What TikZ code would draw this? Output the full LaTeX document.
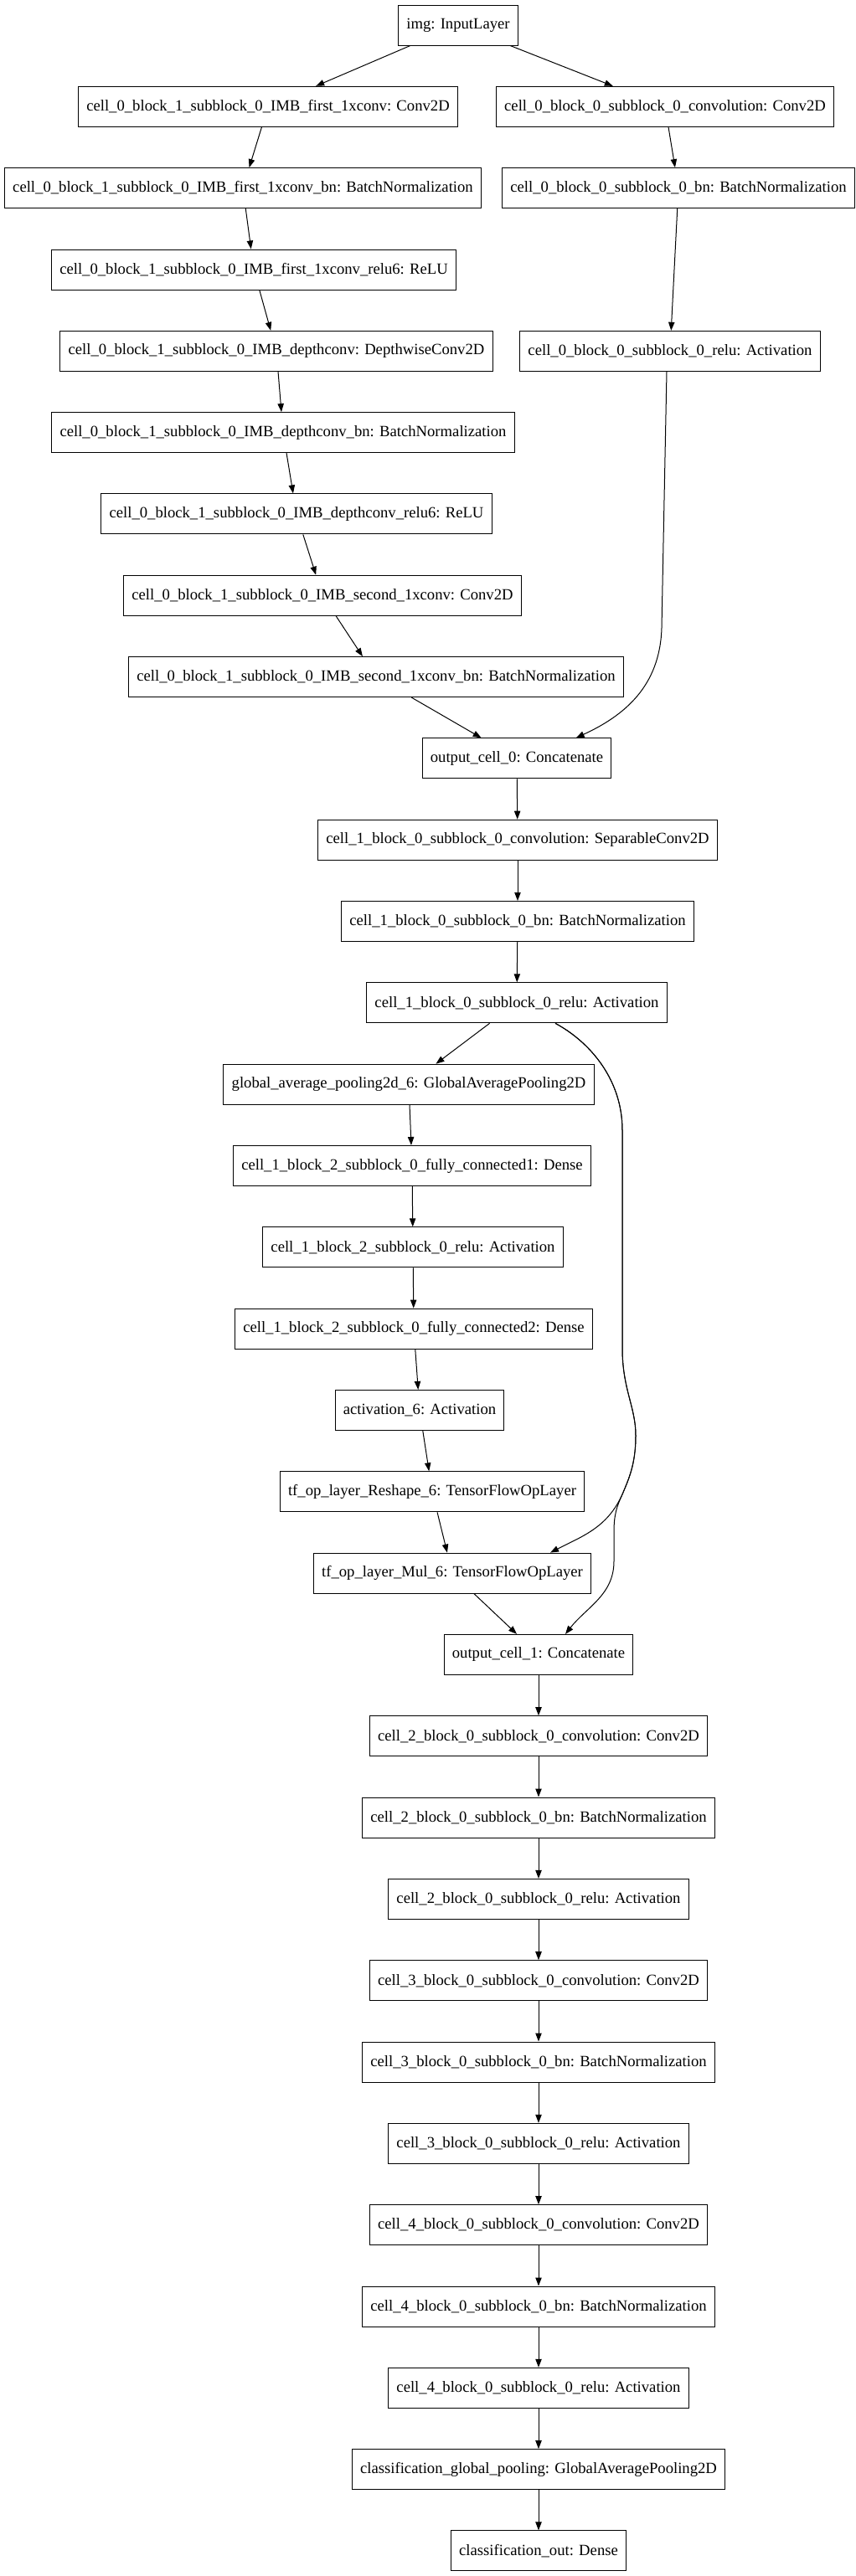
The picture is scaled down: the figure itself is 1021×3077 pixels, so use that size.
\documentclass[tikz,border=0pt]{standalone}
\usepackage{fontspec}
\setmainfont{Liberation Serif}
\usetikzlibrary{arrows.meta}
\tikzset{
	layer/.style={
		rectangle,
		align=center,
		minimum height=36pt,
		inner xsep=7.3pt,
		inner ysep=0pt,
		font=\fontsize{14pt}{16pt}\selectfont
	}
}

\begin{document}
\begin{tikzpicture}[x=.75pt, y=-.75pt, line width=.75pt, >={Triangle[length=7.5pt,width=5.5pt]}]
				\useasboundingbox (0,0) rectangle (1021,3077);
				\node[draw, layer] (Img) at (547,30) {img: InputLayer};
				
				% cell 0, block 1
				\node[draw, layer] (FirstConv) at (320,127.3) {cell\_0\_block\_1\_subblock\_0\_IMB\_first\_1xconv: Conv2D};
				\node[draw, layer] (FirstBn) at (290,224.6) {cell\_0\_block\_1\_subblock\_0\_IMB\_first\_1xconv\_bn: BatchNormalization};
				\node[draw, layer] (FirstRelu) at (303,322) {cell\_0\_block\_1\_subblock\_0\_IMB\_first\_1xconv\_relu6: ReLU};
				\node[draw, layer] (DepthConv) at (330,419.3) {cell\_0\_block\_1\_subblock\_0\_IMB\_depthconv: DepthwiseConv2D};
				\node[draw, layer] (DepthBn) at (338,516.6) {cell\_0\_block\_1\_subblock\_0\_IMB\_depthconv\_bn: BatchNormalization};
				\node[draw, layer] (DepthRelu) at (354,613.9) {cell\_0\_block\_1\_subblock\_0\_IMB\_depthconv\_relu6: ReLU};
				\node[draw, layer] (SecondConv) at (385,711.2) {cell\_0\_block\_1\_subblock\_0\_IMB\_second\_1xconv: Conv2D};
				\node[draw, layer] (SecondBn) at (449,808.6) {cell\_0\_block\_1\_subblock\_0\_IMB\_second\_1xconv\_bn: BatchNormalization};
				
				% cell 0, block 0
				\node[draw, layer] (Conv0) at (794,127.3) {cell\_0\_block\_0\_subblock\_0\_convolution: Conv2D};
				\node[draw, layer] (Bn0) at (810,224.6) {cell\_0\_block\_0\_subblock\_0\_bn: BatchNormalization};
				\node[draw, layer] (Relu0) at (800,419.3) {cell\_0\_block\_0\_subblock\_0\_relu: Activation};
				
				\node[draw, layer] (OutA) at (617,905.9) {output\_cell\_0: Concatenate};
				
				% cell 1
				\node[draw, layer] (SepConv) at (618,1003.2) {cell\_1\_block\_0\_subblock\_0\_convolution: SeparableConv2D};
				\node[draw, layer] (SepBn) at (618,1100.5) {cell\_1\_block\_0\_subblock\_0\_bn: BatchNormalization};
				\node[draw, layer] (SepRelu) at (617,1197.8) {cell\_1\_block\_0\_subblock\_0\_relu: Activation};
				\node[draw, layer] (Pool) at (488,1295.2) {global\_average\_pooling2d\_6: GlobalAveragePooling2D};
				\node[draw, layer] (DenseA) at (492,1392.5) {cell\_1\_block\_2\_subblock\_0\_fully\_connected1: Dense};
				\node[draw, layer] (DenseRelu) at (493,1489.8) {cell\_1\_block\_2\_subblock\_0\_relu: Activation};
				\node[draw, layer] (DenseB) at (494,1587.1) {cell\_1\_block\_2\_subblock\_0\_fully\_connected2: Dense};
				\node[draw, layer] (Act) at (501,1684.4) {activation\_6: Activation};
				\node[draw, layer] (Reshape) at (516,1781.8) {tf\_op\_layer\_Reshape\_6: TensorFlowOpLayer};
				\node[draw, layer] (Mul) at (540,1879.1) {tf\_op\_layer\_Mul\_6: TensorFlowOpLayer};
				
				\node[draw, layer] (OutB) at (643,1976.4) {output\_cell\_1: Concatenate};
				
				% cells 2 to 4
				\node[draw, layer] (Conv2) at (643,2073.7) {cell\_2\_block\_0\_subblock\_0\_convolution: Conv2D};
				\node[draw, layer] (Bn2) at (643,2171) {cell\_2\_block\_0\_subblock\_0\_bn: BatchNormalization};
				\node[draw, layer] (Relu2) at (643,2268.4) {cell\_2\_block\_0\_subblock\_0\_relu: Activation};
				\node[draw, layer] (Conv3) at (643,2365.7) {cell\_3\_block\_0\_subblock\_0\_convolution: Conv2D};
				\node[draw, layer] (Bn3) at (643,2463) {cell\_3\_block\_0\_subblock\_0\_bn: BatchNormalization};
				\node[draw, layer] (Relu3) at (643,2560.3) {cell\_3\_block\_0\_subblock\_0\_relu: Activation};
				\node[draw, layer] (Conv4) at (643,2657.6) {cell\_4\_block\_0\_subblock\_0\_convolution: Conv2D};
				\node[draw, layer] (Bn4) at (643,2755) {cell\_4\_block\_0\_subblock\_0\_bn: BatchNormalization};
				\node[draw, layer] (Relu4) at (643,2852.3) {cell\_4\_block\_0\_subblock\_0\_relu: Activation};
				\node[draw, layer] (ClsPool) at (643,2949.6) {classification\_global\_pooling: GlobalAveragePooling2D};
				\node[draw, layer] (ClsOut) at (643,3046.9) {classification\_out: Dense};
				
				\draw[->] (Img) -- (FirstConv);
				\draw[->] (Img) -- (Conv0);
				\draw[->] (FirstConv) -- (FirstBn);
				\draw[->] (FirstBn) -- (FirstRelu);
				\draw[->] (FirstRelu) -- (DepthConv);
				\draw[->] (DepthConv) -- (DepthBn);
				\draw[->] (DepthBn) -- (DepthRelu);
				\draw[->] (DepthRelu) -- (SecondConv);
				\draw[->] (SecondConv) -- (SecondBn);
				\draw[->] (SecondBn) -- (OutA);
				\draw[->] (Conv0) -- (Bn0);
				\draw[->] (Bn0) -- (Relu0);
				\draw[->] ([xshift=-3pt]Relu0.south) -- (790,750) .. controls (788,820) and (745,855) .. ([xshift=53pt]OutA.north);
				
				\draw[->] (OutA) -- (SepConv);
				\draw[->] (SepConv) -- (SepBn);
				\draw[->] (SepBn) -- (SepRelu);
				\draw[->] (SepRelu) -- (Pool);
				\draw[->] (Pool) -- (DenseA);
				\draw[->] (DenseA) -- (DenseRelu);
				\draw[->] (DenseRelu) -- (DenseB);
				\draw[->] (DenseB) -- (Act);
				\draw[->] (Act) -- (Reshape);
				\draw[->] (Reshape) -- (Mul);
				\draw[->] (Mul) -- (OutB);
				% skip connections round the squeeze branch
				\draw[->] ([xshift=34.5pt]SepRelu.south) .. controls (705,1245) and (743,1290) .. (743,1350) -- (743,1610)
					.. controls (743,1660) and (759,1680) .. (759,1715) .. controls (759,1750) and (750,1768) .. (743,1785)
					.. controls (725,1825) and (695,1835) .. ([xshift=87.75pt]Mul.north);
				\draw[->] ([xshift=34.5pt]SepRelu.south) .. controls (705,1245) and (743,1290) .. (743,1350) -- (743,1610)
					.. controls (743,1660) and (759,1680) .. (759,1715) .. controls (759,1750) and (750,1768) .. (743,1785)
					.. controls (736,1800) and (733,1810) .. (733,1830) -- (733,1865)
					.. controls (733,1905) and (700,1920) .. ([xshift=24pt]OutB.north);
				
				\draw[->] (OutB) -- (Conv2);
				\draw[->] (Conv2) -- (Bn2);
				\draw[->] (Bn2) -- (Relu2);
				\draw[->] (Relu2) -- (Conv3);
				\draw[->] (Conv3) -- (Bn3);
				\draw[->] (Bn3) -- (Relu3);
				\draw[->] (Relu3) -- (Conv4);
				\draw[->] (Conv4) -- (Bn4);
				\draw[->] (Bn4) -- (Relu4);
				\draw[->] (Relu4) -- (ClsPool);
				\draw[->] (ClsPool) -- (ClsOut);
			\end{tikzpicture}
\end{document}
